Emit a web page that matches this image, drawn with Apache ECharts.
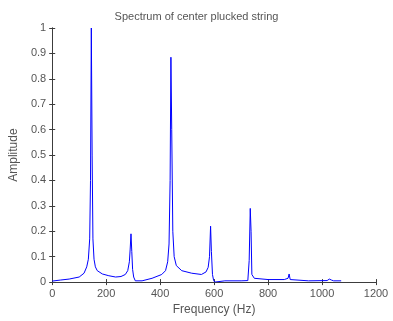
<!DOCTYPE html>
<html>
<head>
<meta charset="utf-8">
<script src="https://cdn.jsdelivr.net/npm/echarts@6/dist/echarts.min.js"></script>
<style>
  html, body { margin: 0; padding: 0; background: #fff; }
  #main { width: 393px; height: 321px; }
</style>
</head>
<body>
<div id="main"></div>
<script>
// spectrum (Hz, amplitude)
var freq = [0, 30, 63, 100, 118, 128, 134, 139, 142, 145, 148, 151, 155, 160, 167, 186, 210, 235, 255, 271, 280, 286, 289, 292, 295, 298, 302, 308, 314, 333, 370, 406, 420, 428, 433, 437, 440, 443, 447, 452, 460, 480, 517, 553, 570, 578, 583, 587, 590, 594, 598, 602, 640, 700, 725, 730, 734, 737, 740, 749, 800, 860, 874, 878, 882, 887, 950, 1019, 1027, 1031, 1035, 1043, 1071];
var amp  = [0.004, 0.008, 0.012, 0.02, 0.035, 0.06, 0.09, 0.17, 0.4, 1.0, 0.5, 0.17, 0.09, 0.06, 0.045, 0.032, 0.025, 0.02, 0.022, 0.03, 0.045, 0.08, 0.13, 0.19, 0.12, 0.05, 0.02, 0.005, 0.0, 0.005, 0.015, 0.03, 0.045, 0.08, 0.15, 0.4, 0.885, 0.6, 0.2, 0.1, 0.065, 0.045, 0.035, 0.03, 0.04, 0.058, 0.1, 0.22, 0.12, 0.03, 0.008, 0.0, 0.005, 0.005, 0.006, 0.085, 0.29, 0.2, 0.03, 0.015, 0.01, 0.01, 0.015, 0.032, 0.01, 0.004, 0.005, 0.006, 0.012, 0.015, 0.008, 0.005, 0.005];
var xTicks = [0, 200, 400, 600, 800, 1000, 1200];
var yTicks = [0, 0.1, 0.2, 0.3, 0.4, 0.5, 0.6, 0.7, 0.8, 0.9, 1];

var points = freq.map(function (f, i) { return [f, amp[i]]; });

var font = 'Liberation Sans, Arial, sans-serif';
var axisColor = '#3c3c3c';
var textColor = '#555555';

function yLabel(v) {
  return String(Math.round(v * 10) / 10);
}
function xLabel(v) {
  return String(v);
}

var myChart = echarts.init(document.getElementById('main'));
myChart.setOption({
  animation: false,
  title: {
    text: 'Spectrum of center plucked string',
    left: 'center',
    top: 6,
    textStyle: { color: textColor, fontSize: 11, fontWeight: 'normal', fontFamily: font }
  },
  grid: { left: 49.5, right: 17, top: 28, bottom: 36 },
  xAxis: [{
    type: 'value',
    min: xTicks[0], max: xTicks[xTicks.length - 1], interval: 200,
    name: 'Frequency (Hz)',
    nameLocation: 'middle',
    nameGap: 21,
    nameTextStyle: { color: textColor, fontSize: 12, fontFamily: font },
    axisLine: { lineStyle: { color: axisColor } },
    axisTick: { inside: true, length: 3, lineStyle: { color: axisColor } },
    axisLabel: { color: textColor, fontSize: 11, fontFamily: font, margin: 6, formatter: xLabel },
    splitLine: { show: false }
  }, {
    type: 'value', position: 'top',
    min: xTicks[0], max: xTicks[xTicks.length - 1], interval: 200,
    axisLine: { show: true, lineStyle: { color: axisColor } },
    axisTick: { inside: true, length: 3, lineStyle: { color: axisColor } },
    axisLabel: { show: false },
    splitLine: { show: false }
  }],
  yAxis: [{
    type: 'value',
    min: yTicks[0], max: yTicks[yTicks.length - 1], interval: 0.1,
    name: 'Amplitude',
    nameLocation: 'middle',
    nameGap: 29,
    nameTextStyle: { color: textColor, fontSize: 12, fontFamily: font },
    axisLine: { show: true, lineStyle: { color: axisColor } },
    axisTick: { show: true, inside: true, length: 3, lineStyle: { color: axisColor } },
    axisLabel: { color: textColor, fontSize: 11, fontFamily: font, margin: 6, formatter: yLabel },
    splitLine: { show: false }
  }, {
    type: 'value', position: 'right',
    min: yTicks[0], max: yTicks[yTicks.length - 1], interval: 0.1,
    axisLine: { show: true, lineStyle: { color: axisColor } },
    axisTick: { show: true, inside: true, length: 3, lineStyle: { color: axisColor } },
    axisLabel: { show: false },
    splitLine: { show: false }
  }],
  series: [{
    type: 'line',
    data: points,
    showSymbol: false,
    lineStyle: { color: '#0000ff', width: 1 },
    itemStyle: { color: '#0000ff' }
  }]
});
</script>
</body>
</html>
